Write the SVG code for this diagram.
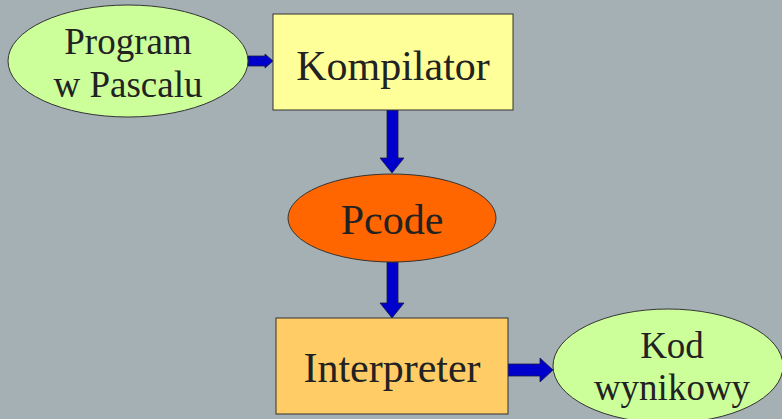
<svg xmlns="http://www.w3.org/2000/svg" width="782" height="419" viewBox="0 0 782 419">
  <style>
    .node { stroke: #333333; stroke-width: 1; }
    .lbl { fill: #222222; text-anchor: middle; }
    .arrow { fill: #0000CC; stroke: #1a1a40; stroke-width: 0.8; stroke-linejoin: miter; }
  </style>
  <rect x="0" y="0" width="782" height="419" fill="#A5B0B4"/>

  <g id="connectors">
    <!-- Program -> Kompilator -->
    <polygon class="arrow" points="248,56 265,56 265,54 273,61 265,68 265,66 248,66"/>
    <!-- Kompilator -> Pcode -->
    <polygon class="arrow" points="387,110 398,110 398,158 404,158 392,173 380,158 387,158"/>
    <!-- Pcode -> Interpreter -->
    <polygon class="arrow" points="387,262 398,262 398,303 404,303 392,318 380,303 387,303"/>
    <!-- Interpreter -> Kod wynikowy -->
    <polygon class="arrow" points="504,364 540,364 540,358 553,370 540,382 540,376 504,376"/>
  </g>

  <g font-family="'Liberation Serif', 'Times New Roman', Times, serif">
    <g id="program">
      <ellipse class="node" cx="128" cy="61" rx="120" ry="56" fill="#CCFF99"/>
      <text class="lbl" x="128" y="54" font-size="37">Program</text>
      <text class="lbl" x="128" y="97" font-size="37">w Pascalu</text>
    </g>

    <g id="kompilator">
      <rect class="node" x="273" y="14" width="240" height="96" fill="#FFFF99"/>
      <text class="lbl" x="393" y="80" font-size="42">Kompilator</text>
    </g>

    <g id="pcode">
      <ellipse class="node" cx="392" cy="218" rx="104" ry="44" fill="#FF6600"/>
      <text class="lbl" x="392" y="234" font-size="42">Pcode</text>
    </g>

    <g id="interpreter">
      <rect class="node" x="276" y="318" width="232" height="96" fill="#FFCC66"/>
      <text class="lbl" x="392" y="382" font-size="42">Interpreter</text>
    </g>

    <g id="kod">
      <ellipse class="node" cx="668" cy="366" rx="115" ry="57" fill="#CCFF99"/>
      <text class="lbl" x="672" y="358" font-size="37">Kod</text>
      <text class="lbl" x="672" y="400" font-size="37">wynikowy</text>
    </g>
  </g>
</svg>
